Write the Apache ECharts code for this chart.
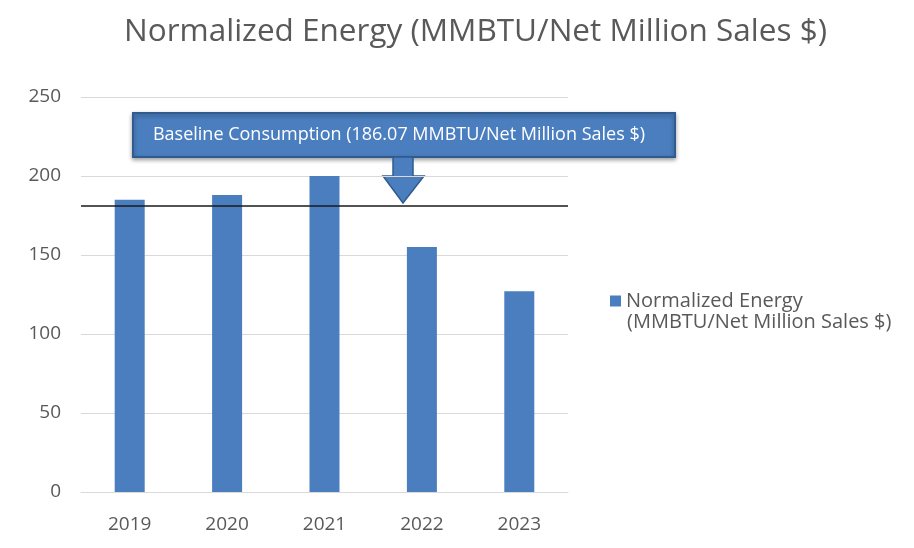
<!DOCTYPE html>
<html>
<head>
<meta charset="utf-8">
<script src="https://cdn.jsdelivr.net/npm/echarts@6/dist/echarts.min.js"></script>
<style>
  html, body { margin: 0; padding: 0; background: #fff; }
  #chart { width: 914px; height: 548px; }
</style>
</head>
<body>
<div id="chart"></div>
<script>
// data
var years = ['2019', '2020', '2021', '2022', '2023'];
var energy = [185, 188, 200, 155, 127];
var baseline = 181;
var yTicks = [0, 50, 100, 150, 200, 250];

var seriesName = 'Normalized Energy (MMBTU/Net Million Sales $)';
var calloutText = 'Baseline Consumption (186.07 MMBTU/Net Million Sales $)';
var font = 'Open Sans';
var grey = '#595959';
var barColor = '#4a7ebf';

var chart = echarts.init(document.getElementById('chart'));

chart.setOption({
  backgroundColor: '#fff',
  animation: false,
  title: {
    text: 'Normalized Energy (MMBTU/Net Million Sales $)',
    left: 119,
    top: 11,
    textStyle: { fontFamily: font, fontSize: 31.5, fontWeight: 'normal', color: grey }
  },
  legend: {
    left: 605,
    top: 286,
    icon: 'rect',
    itemWidth: 11,
    itemHeight: 11,
    itemGap: 9,
    formatter: function () { return 'Normalized Energy'; },
    textStyle: { fontFamily: font, fontSize: 20, color: grey }
  },
  grid: { left: 81, right: 346, top: 97, bottom: 56, containLabel: false },
  xAxis: {
    type: 'category',
    data: years,
    axisLine: { lineStyle: { color: '#d9d9d9' } },
    axisTick: { show: false },
    axisLabel: { fontFamily: font, fontSize: 19, color: grey, margin: 23 }
  },
  yAxis: {
    type: 'value',
    min: yTicks[0],
    max: yTicks[yTicks.length - 1],
    interval: 50,
    axisLine: { show: false },
    axisTick: { show: false },
    splitLine: { lineStyle: { color: '#d9d9d9' } },
    axisLabel: { fontFamily: font, fontSize: 19, color: grey, margin: 20 }
  },
  series: [{
    name: seriesName,
    type: 'bar',
    data: energy,
    barWidth: 30,
    itemStyle: { color: barColor },
    markLine: {
      silent: true,
      symbol: 'none',
      label: { show: false },
      lineStyle: { color: '#1a1a1a', width: 1.5, type: 'solid' },
      data: [{ yAxis: baseline }]
    }
  }],
  graphic: [
    {
      type: 'text',
      left: 627,
      top: 312,
      style: { text: '(MMBTU/Net Million Sales $)', font: '20px "Open Sans"', fill: grey }
    },
    {
      type: 'rect',
      shape: { x: 133, y: 113, width: 542, height: 44 },
      style: { fill: barColor, stroke: '#2f5b8f', lineWidth: 2, shadowBlur: 4, shadowColor: 'rgba(0,0,0,0.35)', shadowOffsetY: 2 }
    },
    {
      type: 'text',
      x: 399, y: 135,
      style: { text: calloutText, font: '18px "Open Sans"', fill: '#fff', align: 'center', verticalAlign: 'middle' }
    },
    {
      type: 'polygon',
      shape: { points: [[393, 157], [413, 157], [413, 176], [424, 176], [403, 203], [383, 176], [393, 176]] },
      style: { fill: barColor, stroke: '#2f5b8f', lineWidth: 1.5 }
    }
  ]
});
</script>
</body>
</html>
